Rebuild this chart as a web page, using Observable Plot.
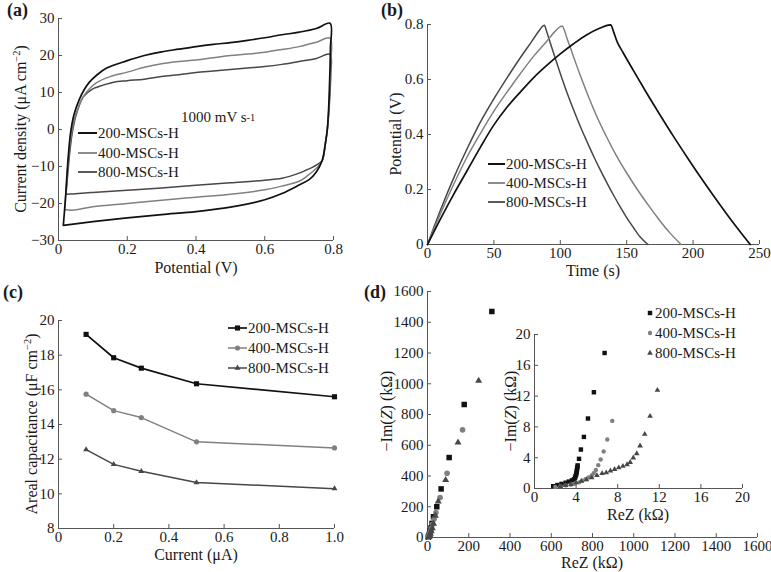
<!DOCTYPE html>
<html><head><meta charset="utf-8">
<script src="https://cdn.jsdelivr.net/npm/d3@7"></script>
<script src="https://cdn.jsdelivr.net/npm/@observablehq/plot@0.6"></script>
<style>
body{margin:0;background:#fff}
#fig{position:relative;width:771px;height:572px;background:#fff;overflow:hidden}
#fig svg{position:absolute}
#fig svg text{font-family:'Liberation Serif','Times New Roman',serif}
</style></head><body><div id="fig"></div>
<script>
// ---------- data ----------
const seriesNames = ["200-MSCs-H", "400-MSCs-H", "800-MSCs-H"];

// (a) CV at 1000 mV/s : [potential V, current density µA cm-2]
const cv200 = [[0.014,-25.9],[0.02,-19],[0.027,-9],[0.035,-1],[0.045,4],[0.06,8],[0.075,10.8],[0.09,12.8],[0.11,14.6],[0.14,16.6],[0.2,18.6],[0.25,20],[0.3,21],[0.35,21.7],[0.4,22.4],[0.45,23],[0.5,23.5],[0.55,24.1],[0.6,24.8],[0.65,25.6],[0.7,26.3],[0.75,27.3],[0.79,28.7],[0.791,22],[0.789,14],[0.786,6],[0.782,0],[0.776,-4],[0.767,-8.4],[0.75,-11.5],[0.73,-13.5],[0.7,-15],[0.65,-17.3],[0.6,-19],[0.5,-21],[0.4,-22.2],[0.3,-23],[0.2,-23.9],[0.1,-24.9],[0.014,-25.9]];
const cv400 = [[0.018,-21.6],[0.024,-14],[0.03,-7],[0.038,-1],[0.05,4],[0.071,8.7],[0.09,11],[0.11,12.6],[0.15,14.3],[0.2,15.5],[0.25,16.8],[0.3,17.8],[0.35,18.4],[0.4,18.8],[0.45,19.4],[0.5,20],[0.55,20.4],[0.6,20.9],[0.65,21.6],[0.7,22.4],[0.75,23.6],[0.79,24.7],[0.792,18],[0.79,12],[0.786,5],[0.782,0],[0.776,-4],[0.767,-8.4],[0.75,-10.5],[0.72,-12.8],[0.7,-14],[0.65,-15.3],[0.6,-16.3],[0.5,-17.5],[0.4,-18.3],[0.3,-19.1],[0.2,-20],[0.1,-20.9],[0.04,-21.8],[0.018,-21.6]];
const cv800 = [[0.022,-17.5],[0.027,-12],[0.033,-6],[0.04,-1],[0.05,3.5],[0.071,8.7],[0.085,10],[0.1,11],[0.13,12],[0.16,12.8],[0.2,13.2],[0.25,13.6],[0.3,14.3],[0.35,14.8],[0.4,15.4],[0.45,15.8],[0.5,16.2],[0.55,16.6],[0.6,17],[0.65,17.6],[0.7,18.4],[0.75,19.2],[0.79,20.3],[0.792,15],[0.79,10],[0.786,4],[0.782,0],[0.776,-4],[0.767,-8.4],[0.75,-9.6],[0.72,-11],[0.7,-11.8],[0.65,-13.2],[0.6,-13.7],[0.5,-14.4],[0.4,-15.1],[0.3,-15.8],[0.2,-16.4],[0.1,-17],[0.04,-17.4],[0.022,-17.5]];

// (b) GCD : [time s, potential V]
const gcd200 = [[0,0],[10,0.095],[20,0.185],[30,0.27],[40,0.355],[50,0.435],[60,0.5],[70,0.555],[80,0.607],[90,0.652],[100,0.693],[110,0.73],[120,0.763],[130,0.787],[136,0.798],[138,0.799],[140,0.775],[143,0.735],[147,0.7],[155,0.633],[165,0.551],[175,0.472],[185,0.395],[195,0.321],[205,0.249],[215,0.18],[225,0.113],[235,0.049],[243,0]];
const gcd400 = [[0,0],[5,0.058],[10,0.115],[20,0.222],[30,0.32],[40,0.405],[50,0.485],[60,0.555],[70,0.622],[80,0.685],[90,0.74],[96,0.775],[100,0.792],[101.5,0.795],[103,0.78],[105,0.75],[108,0.71],[112,0.655],[117,0.59],[122,0.528],[128,0.46],[135,0.39],[142,0.325],[150,0.26],[158,0.2],[166,0.145],[174,0.093],[182,0.045],[191,0]];
const gcd800 = [[0,0],[5,0.065],[10,0.128],[20,0.245],[30,0.35],[40,0.447],[50,0.53],[60,0.607],[70,0.68],[78,0.735],[84,0.777],[87,0.795],[88,0.797],[89.5,0.778],[92,0.74],[96,0.68],[100,0.622],[105,0.553],[110,0.49],[115,0.43],[120,0.375],[125,0.322],[130,0.272],[135,0.225],[140,0.18],[145,0.138],[150,0.098],[155,0.062],[160,0.028],[166,0]];

// (c) areal capacitance vs current
const currents = [0.1, 0.2, 0.3, 0.5, 1.0];
const cap200 = [19.2, 17.85, 17.25, 16.35, 15.6];
const cap400 = [15.75, 14.8, 14.4, 13.0, 12.65];
const cap800 = [12.55, 11.7, 11.3, 10.65, 10.3];

// (d) Nyquist : [ReZ kΩ, -ImZ kΩ]
const eis200 = [[312,1470],[178,865],[105,520],[66,316],[45,200],[29,135],[22,92],[17,62],[13,40],[10,25],[7,14],[5,6],[4,2]];
const eis400 = [[170,700],[95,418],[61,260],[41,163],[32,120],[25,86],[20,60],[15,40],[11,25],[8,14],[6,6],[4,2]];
const eis800 = [[248,1020],[148,618],[88,374],[52,235],[38,142],[29,90],[23,60],[18,40],[14,25],[11,15],[8,7],[6,3]];
// inset (zoom)
const ins200 = [[1.8,0.3],[2.2,0.45],[2.6,0.6],[3.0,0.75],[3.3,0.9],[3.6,1.05],[3.8,1.2],[3.9,1.4],[3.95,1.6],[4.0,1.8],[4.03,2.0],[4.06,2.2],[4.08,2.4],[4.1,2.6],[4.12,2.8],[4.15,3.0],[4.28,3.85],[4.46,5.06],[4.75,6.7],[5.14,9.09],[5.71,12.5],[6.74,17.6]];
const ins400 = [[2.0,0.2],[2.5,0.3],[3.0,0.4],[3.5,0.5],[3.9,0.6],[4.3,0.8],[4.6,1.0],[4.9,1.2],[5.2,1.45],[5.5,1.7],[5.7,2.0],[5.9,2.4],[6.13,3.03],[6.36,3.77],[6.65,4.8],[7.0,6.36],[7.48,8.78]];
const ins800 = [[2.5,0.25],[3.0,0.4],[3.5,0.55],[4.0,0.75],[4.5,0.95],[5.0,1.15],[5.5,1.4],[6.0,1.7],[6.5,1.95],[6.9,2.05],[7.3,2.3],[7.7,2.5],[8.1,2.7],[8.5,2.9],[8.9,3.1],[9.2,3.4],[9.5,3.98],[9.83,4.54],[10.15,5.54],[10.6,7.05],[11.11,9.39],[11.82,12.77]];

// tick values
const ticksAx = [0, 0.2, 0.4, 0.6, 0.8];
const ticksAy = [-30, -20, -10, 0, 10, 20, 30];
const ticksBx = [0, 50, 100, 150, 200, 250];
const ticksBy = [0, 0.2, 0.4, 0.6, 0.8];
const ticksCx = [0, 0.2, 0.4, 0.6, 0.8, 1.0];
const ticksCy = [8, 10, 12, 14, 16, 18, 20];
const ticksD = [0, 200, 400, 600, 800, 1000, 1200, 1400, 1600];
const ticksIn = [0, 4, 8, 12, 16, 20];

// ---------- style ----------
const COL = ["#111111", "#808080", "#474747"];
const SW = [1.7, 1.5, 1.5];
const FONT = "'Liberation Serif', 'Times New Roman', serif";
const fig = document.getElementById("fig");
const minus = d => d < 0 ? "\u2212" + Math.abs(d) : String(d);
const fmt1 = d => d === 0 ? "0" : d.toFixed(1);

function axes(xt, yt, xf, yf) {
  return [
    Plot.ruleX([xt[0]], {stroke: "#555", strokeWidth: 1}),
    Plot.ruleY([yt[0]], {stroke: "#555", strokeWidth: 1}),
    Plot.axisX(xt, {tickSize: -4, tickPadding: 7, tickFormat: xf, label: null, stroke: "#555", fontFamily: FONT}),
    Plot.axisY(yt, {tickSize: -4, tickPadding: 8, tickFormat: yf, label: null, stroke: "#555", fontFamily: FONT})
  ];
}
function place(svg, left, top) {
  svg.style.left = left + "px";
  svg.style.top = top + "px";
  fig.appendChild(svg);
}
const baseStyle = {fontFamily: FONT, fontSize: "15px", color: "#1a1a1a", background: "transparent", overflow: "visible"};

// (a)
place(Plot.plot({
  width: 390, height: 285, marginLeft: 58, marginRight: 57, marginTop: 18, marginBottom: 45,
  style: baseStyle,
  x: {domain: [0, 0.8]}, y: {domain: [-30, 30]},
  marks: [
    ...axes(ticksAx, ticksAy, fmt1, minus),
    Plot.line(cv800, {x: d => d[0], y: d => d[1], stroke: COL[2], strokeWidth: SW[2], curve: "catmull-rom"}),
    Plot.line(cv400, {x: d => d[0], y: d => d[1], stroke: COL[1], strokeWidth: SW[1], curve: "catmull-rom"}),
    Plot.line(cv200, {x: d => d[0], y: d => d[1], stroke: COL[0], strokeWidth: SW[0], curve: "catmull-rom"})
  ]
}), 0, 0);

// (b)
place(Plot.plot({
  width: 391, height: 285, marginLeft: 47, marginRight: 12, marginTop: 24, marginBottom: 41,
  style: baseStyle,
  x: {domain: [0, 250]}, y: {domain: [0, 0.8]},
  marks: [
    ...axes(ticksBx, ticksBy, String, fmt1),
    Plot.line(gcd800, {x: d => d[0], y: d => d[1], stroke: COL[2], strokeWidth: SW[2], curve: "monotone-x"}),
    Plot.line(gcd400, {x: d => d[0], y: d => d[1], stroke: COL[1], strokeWidth: SW[1], curve: "monotone-x"}),
    Plot.line(gcd200, {x: d => d[0], y: d => d[1], stroke: COL[0], strokeWidth: SW[0], curve: "monotone-x"})
  ]
}), 380, 0);

// (c)
const capRows = (vals) => currents.map((c, i) => ({c, v: vals[i]}));
const symC = ["square", "circle", "triangle"];
const rC = [2.9, 2.6, 2.2];
const capSets = [cap200, cap400, cap800];
place(Plot.plot({
  width: 390, height: 287, marginLeft: 58, marginRight: 56, marginTop: 35, marginBottom: 44,
  style: baseStyle,
  x: {domain: [0, 1.0]}, y: {domain: [8, 20]},
  marks: [
    ...axes(ticksCx, ticksCy, fmt1, String),
    ...capSets.flatMap((vals, k) => [
      Plot.line(capRows(vals), {x: "c", y: "v", stroke: COL[k], strokeWidth: SW[k]}),
      Plot.dot(capRows(vals), {x: "c", y: "v", symbol: symC[k], r: rC[k], fill: COL[k], stroke: null})
    ])
  ]
}), 0, 285);

// (d) main
const eisSets = [eis200, eis400, eis800];
const rD = [3.1, 2.8, 2.6];
place(Plot.plot({
  width: 391, height: 287, marginLeft: 47, marginRight: 14, marginTop: 6, marginBottom: 35,
  style: baseStyle,
  x: {domain: [0, 1600]}, y: {domain: [0, 1600]},
  marks: [
    ...axes(ticksD, ticksD, String, String),
    ...eisSets.map((s, k) => Plot.dot(s, {x: d => d[0], y: d => d[1], symbol: symC[k], r: rD[k], fill: COL[k], stroke: null}))
  ]
}), 380, 285);

// (d) inset
const insSets = [ins200, ins400, ins800];
const rI = [2.5, 2.2, 2.1];
place(Plot.plot({
  width: 271, height: 210, marginLeft: 44, marginRight: 19, marginTop: 14, marginBottom: 42,
  style: baseStyle,
  x: {domain: [0, 20]}, y: {domain: [0, 20]},
  marks: [
    ...axes(ticksIn, ticksIn, String, String),
    ...insSets.map((s, k) => Plot.dot(s, {x: d => d[0], y: d => d[1], symbol: symC[k], r: rI[k], fill: COL[k], stroke: null}))
  ]
}), 490, 320);

// ---------- overlay: titles, panel letters, legends ----------
const ov = d3.create("svg").attr("width", 771).attr("height", 572)
  .style("left", "0px").style("top", "0px").style("pointer-events", "none")
  .attr("font-family", FONT).attr("fill", "#1a1a1a");

function addParts(t, parts) {
  parts.forEach(p => { const s = t.append("tspan").text(p.t); if (p.a) for (const k in p.a) s.attr(k, p.a[k]); });
  return t;
}
function hTitle(x, y, parts) {
  return addParts(ov.append("text").attr("x", x).attr("y", y).attr("text-anchor", "middle").attr("font-size", 16), parts);
}
function vTitle(x, y, parts) {
  return addParts(ov.append("text").attr("transform", `translate(${x},${y}) rotate(-90)`).attr("text-anchor", "middle").attr("font-size", 16), parts);
}
const sup = {"font-size": 10.5, dy: -6};
const unsup = {dy: 6};
hTitle(196, 273, [{t: "Potential (V)"}]);
vTitle(26, 129, [{t: "Current density (\u03bcA cm"}, {t: "\u22122", a: sup}, {t: ")", a: unsup}]);
hTitle(593, 276, [{t: "Time (s)"}]);
vTitle(401, 134, [{t: "Potential (V)"}]);
hTitle(196, 560, [{t: "Current (\u03bcA)"}]);
vTitle(37, 424, [{t: "Areal capacitance (\u03bcF cm"}, {t: "\u22122", a: sup}, {t: ")", a: unsup}]);
hTitle(592, 568, [{t: "ReZ (k\u03a9)"}]);
vTitle(392, 411, [{t: "\u2212Im("}, {t: "Z", a: {"font-style": "italic"}}, {t: ") (k\u03a9)"}]);
hTitle(638, 520, [{t: "ReZ (k\u03a9)"}]);
vTitle(516, 411, [{t: "\u2212Im("}, {t: "Z", a: {"font-style": "italic"}}, {t: ") (k\u03a9)"}]);

// panel letters
[["(a)", 7, 16], ["(b)", 381, 16], ["(c)", 3, 298], ["(d)", 364, 298]].forEach(([s, x, y]) =>
  ov.append("text").attr("x", x).attr("y", y).attr("font-weight", "bold").attr("font-size", 18).text(s));

// legend (a)
const la = ov.append("text").attr("x", 181).attr("y", 122).attr("font-size", 15);
la.append("tspan").text("1000 mV s");
la.append("tspan").attr("font-size", 10.5).attr("dy", -1).text("-1");
seriesNames.forEach((n, k) => {
  const y = [133, 153, 172][k];
  ov.append("line").attr("x1", 78).attr("x2", 97).attr("y1", y).attr("y2", y).attr("stroke", COL[k]).attr("stroke-width", SW[k] + 0.3);
  ov.append("text").attr("x", 98).attr("y", y + 5).attr("font-size", 15).text(n);
});
// legend (b)
seriesNames.forEach((n, k) => {
  const y = [164, 183, 202][k];
  ov.append("line").attr("x1", 488).attr("x2", 505).attr("y1", y).attr("y2", y).attr("stroke", COL[k]).attr("stroke-width", SW[k] + 0.3);
  ov.append("text").attr("x", 506).attr("y", y + 5).attr("font-size", 15).text(n);
});
// legend (c)
const symTypes = [d3.symbolSquare, d3.symbolCircle, d3.symbolTriangle];
seriesNames.forEach((n, k) => {
  const y = [328, 348, 368][k];
  ov.append("line").attr("x1", 228).attr("x2", 247).attr("y1", y).attr("y2", y).attr("stroke", COL[k]).attr("stroke-width", SW[k]);
  ov.append("path").attr("transform", `translate(237.5,${y})`).attr("fill", COL[k])
    .attr("d", d3.symbol().type(symTypes[k]).size(Math.PI * rC[k] * rC[k])());
  ov.append("text").attr("x", 248).attr("y", y + 5).attr("font-size", 15).text(n);
});
// legend (d)
seriesNames.forEach((n, k) => {
  const y = [313, 333, 353][k];
  ov.append("path").attr("transform", `translate(650,${y})`).attr("fill", COL[k])
    .attr("d", d3.symbol().type(symTypes[k]).size(Math.PI * rI[k] * rI[k])());
  ov.append("text").attr("x", 655).attr("y", y + 5).attr("font-size", 15).text(n);
});

fig.appendChild(ov.node());
</script></body></html>
